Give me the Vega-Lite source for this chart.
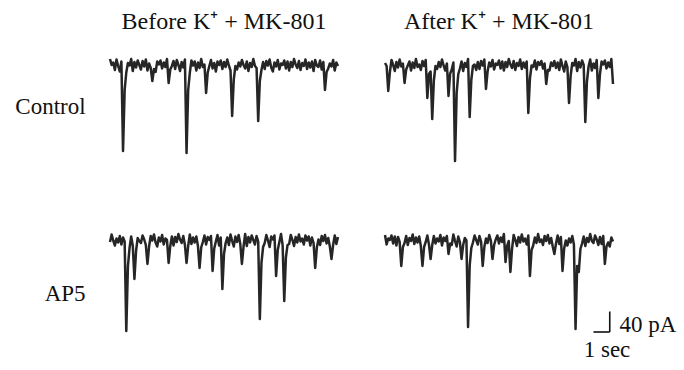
{
"$schema": "https://vega.github.io/schema/vega-lite/v6.json",
"background": "white",
"padding": {"left": 15, "top": 10, "right": 5, "bottom": 5},
"config": {"view": {"stroke": null}, "font": "Liberation Serif"},
"data": {"values": [
{"r":"C","c":"B","t":0,"i":10},{"r":"C","c":"B","t":0.1,"i":-2},{"r":"C","c":"B","t":0.2,"i":3},{"r":"C","c":"B","t":0.3,"i":-12},{"r":"C","c":"B","t":0.4,"i":9},{"r":"C","c":"B","t":0.5,"i":-4},{"r":"C","c":"B","t":0.6,"i":-15},{"r":"C","c":"B","t":0.7,"i":5},{"r":"C","c":"B","t":0.8,"i":-174},{"r":"C","c":"B","t":0.9,"i":-52},
{"r":"C","c":"B","t":1.0,"i":-17},{"r":"C","c":"B","t":1.1,"i":2},{"r":"C","c":"B","t":1.2,"i":-3},{"r":"C","c":"B","t":1.3,"i":10},{"r":"C","c":"B","t":1.4,"i":-14},{"r":"C","c":"B","t":1.5,"i":4},{"r":"C","c":"B","t":1.6,"i":-7},{"r":"C","c":"B","t":1.7,"i":7},{"r":"C","c":"B","t":1.8,"i":-2},{"r":"C","c":"B","t":1.9,"i":-11},
{"r":"C","c":"B","t":2.0,"i":6},{"r":"C","c":"B","t":2.1,"i":-5},{"r":"C","c":"B","t":2.2,"i":9},{"r":"C","c":"B","t":2.3,"i":-13},{"r":"C","c":"B","t":2.4,"i":1},{"r":"C","c":"B","t":2.5,"i":-8},{"r":"C","c":"B","t":2.6,"i":-34},{"r":"C","c":"B","t":2.7,"i":-10},{"r":"C","c":"B","t":2.8,"i":-16},{"r":"C","c":"B","t":2.9,"i":5},
{"r":"C","c":"B","t":3.0,"i":-1},{"r":"C","c":"B","t":3.1,"i":7},{"r":"C","c":"B","t":3.2,"i":-9},{"r":"C","c":"B","t":3.3,"i":3},{"r":"C","c":"B","t":3.4,"i":-6},{"r":"C","c":"B","t":3.5,"i":10},{"r":"C","c":"B","t":3.6,"i":-38},{"r":"C","c":"B","t":3.7,"i":-11},{"r":"C","c":"B","t":3.8,"i":-4},{"r":"C","c":"B","t":3.9,"i":6},
{"r":"C","c":"B","t":4.0,"i":-10},{"r":"C","c":"B","t":4.1,"i":8},{"r":"C","c":"B","t":4.2,"i":-2},{"r":"C","c":"B","t":4.3,"i":-14},{"r":"C","c":"B","t":4.4,"i":4},{"r":"C","c":"B","t":4.5,"i":-7},{"r":"C","c":"B","t":4.6,"i":9},{"r":"C","c":"B","t":4.7,"i":-178},{"r":"C","c":"B","t":4.8,"i":-53},{"r":"C","c":"B","t":4.9,"i":-18},
{"r":"C","c":"B","t":5.0,"i":7},{"r":"C","c":"B","t":5.1,"i":-3},{"r":"C","c":"B","t":5.2,"i":5},{"r":"C","c":"B","t":5.3,"i":-13},{"r":"C","c":"B","t":5.4,"i":3},{"r":"C","c":"B","t":5.5,"i":-8},{"r":"C","c":"B","t":5.6,"i":10},{"r":"C","c":"B","t":5.7,"i":-6},{"r":"C","c":"B","t":5.8,"i":-1},{"r":"C","c":"B","t":5.9,"i":-58},
{"r":"C","c":"B","t":6.0,"i":-17},{"r":"C","c":"B","t":6.1,"i":-4},{"r":"C","c":"B","t":6.2,"i":8},{"r":"C","c":"B","t":6.3,"i":-9},{"r":"C","c":"B","t":6.4,"i":2},{"r":"C","c":"B","t":6.5,"i":-15},{"r":"C","c":"B","t":6.6,"i":5},{"r":"C","c":"B","t":6.7,"i":-2},{"r":"C","c":"B","t":6.8,"i":7},{"r":"C","c":"B","t":6.9,"i":-10},
{"r":"C","c":"B","t":7.0,"i":4},{"r":"C","c":"B","t":7.1,"i":-6},{"r":"C","c":"B","t":7.2,"i":9},{"r":"C","c":"B","t":7.3,"i":-3},{"r":"C","c":"B","t":7.4,"i":-13},{"r":"C","c":"B","t":7.5,"i":-104},{"r":"C","c":"B","t":7.6,"i":-31},{"r":"C","c":"B","t":7.7,"i":-4},{"r":"C","c":"B","t":7.8,"i":-11},{"r":"C","c":"B","t":7.9,"i":3},
{"r":"C","c":"B","t":8.0,"i":-5},{"r":"C","c":"B","t":8.1,"i":8},{"r":"C","c":"B","t":8.2,"i":-2},{"r":"C","c":"B","t":8.3,"i":-9},{"r":"C","c":"B","t":8.4,"i":5},{"r":"C","c":"B","t":8.5,"i":-14},{"r":"C","c":"B","t":8.6,"i":2},{"r":"C","c":"B","t":8.7,"i":-6},{"r":"C","c":"B","t":8.8,"i":10},{"r":"C","c":"B","t":8.9,"i":-4},
{"r":"C","c":"B","t":9.0,"i":-8},{"r":"C","c":"B","t":9.1,"i":-114},{"r":"C","c":"B","t":9.2,"i":-34},{"r":"C","c":"B","t":9.3,"i":-12},{"r":"C","c":"B","t":9.4,"i":4},{"r":"C","c":"B","t":9.5,"i":-10},{"r":"C","c":"B","t":9.6,"i":6},{"r":"C","c":"B","t":9.7,"i":-3},{"r":"C","c":"B","t":9.8,"i":9},{"r":"C","c":"B","t":9.9,"i":-7},
{"r":"C","c":"B","t":10.0,"i":-15},{"r":"C","c":"B","t":10.1,"i":3},{"r":"C","c":"B","t":10.2,"i":-5},{"r":"C","c":"B","t":10.3,"i":8},{"r":"C","c":"B","t":10.4,"i":-11},{"r":"C","c":"B","t":10.5,"i":1},{"r":"C","c":"B","t":10.6,"i":-2},{"r":"C","c":"B","t":10.7,"i":7},{"r":"C","c":"B","t":10.8,"i":-9},{"r":"C","c":"B","t":10.9,"i":5},
{"r":"C","c":"B","t":11.0,"i":-13},{"r":"C","c":"B","t":11.1,"i":4},{"r":"C","c":"B","t":11.2,"i":-6},{"r":"C","c":"B","t":11.3,"i":10},{"r":"C","c":"B","t":11.4,"i":-1},{"r":"C","c":"B","t":11.5,"i":-8},{"r":"C","c":"B","t":11.6,"i":6},{"r":"C","c":"B","t":11.7,"i":-12},{"r":"C","c":"B","t":11.8,"i":2},{"r":"C","c":"B","t":11.9,"i":-4},
{"r":"C","c":"B","t":12.0,"i":9},{"r":"C","c":"B","t":12.1,"i":-10},{"r":"C","c":"B","t":12.2,"i":3},{"r":"C","c":"B","t":12.3,"i":-7},{"r":"C","c":"B","t":12.4,"i":5},{"r":"C","c":"B","t":12.5,"i":-14},{"r":"C","c":"B","t":12.6,"i":8},{"r":"C","c":"B","t":12.7,"i":-3},{"r":"C","c":"B","t":12.8,"i":-6},{"r":"C","c":"B","t":12.9,"i":7},
{"r":"C","c":"B","t":13.0,"i":-11},{"r":"C","c":"B","t":13.1,"i":4},{"r":"C","c":"B","t":13.2,"i":-52},{"r":"C","c":"B","t":13.3,"i":-16},{"r":"C","c":"B","t":13.4,"i":-9},{"r":"C","c":"B","t":13.5,"i":1},{"r":"C","c":"B","t":13.6,"i":-5},{"r":"C","c":"B","t":13.7,"i":8},{"r":"C","c":"B","t":13.8,"i":-13},{"r":"C","c":"B","t":13.9,"i":3},{"r":"C","c":"B","t":14.0,"i":-4},

{"r":"C","c":"A","t":0,"i":2},{"r":"C","c":"A","t":0.1,"i":-4},{"r":"C","c":"A","t":0.2,"i":-54},{"r":"C","c":"A","t":0.3,"i":-16},{"r":"C","c":"A","t":0.4,"i":8},{"r":"C","c":"A","t":0.5,"i":-2},{"r":"C","c":"A","t":0.6,"i":-14},{"r":"C","c":"A","t":0.7,"i":4},{"r":"C","c":"A","t":0.8,"i":-7},{"r":"C","c":"A","t":0.9,"i":9},
{"r":"C","c":"A","t":1.0,"i":-5},{"r":"C","c":"A","t":1.1,"i":1},{"r":"C","c":"A","t":1.2,"i":-38},{"r":"C","c":"A","t":1.3,"i":-11},{"r":"C","c":"A","t":1.4,"i":-3},{"r":"C","c":"A","t":1.5,"i":5},{"r":"C","c":"A","t":1.6,"i":-13},{"r":"C","c":"A","t":1.7,"i":3},{"r":"C","c":"A","t":1.8,"i":-8},{"r":"C","c":"A","t":1.9,"i":10},
{"r":"C","c":"A","t":2.0,"i":-6},{"r":"C","c":"A","t":2.1,"i":-1},{"r":"C","c":"A","t":2.2,"i":-12},{"r":"C","c":"A","t":2.3,"i":6},{"r":"C","c":"A","t":2.4,"i":-4},{"r":"C","c":"A","t":2.5,"i":8},{"r":"C","c":"A","t":2.6,"i":-68},{"r":"C","c":"A","t":2.7,"i":-20},{"r":"C","c":"A","t":2.8,"i":-15},{"r":"C","c":"A","t":2.9,"i":-110},
{"r":"C","c":"A","t":3.0,"i":-33},{"r":"C","c":"A","t":3.1,"i":-4},{"r":"C","c":"A","t":3.2,"i":-10},{"r":"C","c":"A","t":3.3,"i":4},{"r":"C","c":"A","t":3.4,"i":-6},{"r":"C","c":"A","t":3.5,"i":9},{"r":"C","c":"A","t":3.6,"i":-3},{"r":"C","c":"A","t":3.7,"i":-13},{"r":"C","c":"A","t":3.8,"i":1},{"r":"C","c":"A","t":3.9,"i":-64},
{"r":"C","c":"A","t":4.0,"i":-19},{"r":"C","c":"A","t":4.1,"i":-11},{"r":"C","c":"A","t":4.2,"i":3},{"r":"C","c":"A","t":4.3,"i":-194},{"r":"C","c":"A","t":4.4,"i":-58},{"r":"C","c":"A","t":4.5,"i":-20},{"r":"C","c":"A","t":4.6,"i":-9},{"r":"C","c":"A","t":4.7,"i":5},{"r":"C","c":"A","t":4.8,"i":-14},{"r":"C","c":"A","t":4.9,"i":2},
{"r":"C","c":"A","t":5.0,"i":-6},{"r":"C","c":"A","t":5.1,"i":10},{"r":"C","c":"A","t":5.2,"i":-106},{"r":"C","c":"A","t":5.3,"i":-32},{"r":"C","c":"A","t":5.4,"i":-4},{"r":"C","c":"A","t":5.5,"i":-1},{"r":"C","c":"A","t":5.6,"i":-12},{"r":"C","c":"A","t":5.7,"i":4},{"r":"C","c":"A","t":5.8,"i":-10},{"r":"C","c":"A","t":5.9,"i":6},
{"r":"C","c":"A","t":6.0,"i":-3},{"r":"C","c":"A","t":6.1,"i":9},{"r":"C","c":"A","t":6.2,"i":-50},{"r":"C","c":"A","t":6.3,"i":-15},{"r":"C","c":"A","t":6.4,"i":3},{"r":"C","c":"A","t":6.5,"i":-5},{"r":"C","c":"A","t":6.6,"i":8},{"r":"C","c":"A","t":6.7,"i":-11},{"r":"C","c":"A","t":6.8,"i":1},{"r":"C","c":"A","t":6.9,"i":-2},
{"r":"C","c":"A","t":7.0,"i":7},{"r":"C","c":"A","t":7.1,"i":-9},{"r":"C","c":"A","t":7.2,"i":5},{"r":"C","c":"A","t":7.3,"i":-13},{"r":"C","c":"A","t":7.4,"i":4},{"r":"C","c":"A","t":7.5,"i":-6},{"r":"C","c":"A","t":7.6,"i":10},{"r":"C","c":"A","t":7.7,"i":-1},{"r":"C","c":"A","t":7.8,"i":-8},{"r":"C","c":"A","t":7.9,"i":6},
{"r":"C","c":"A","t":8.0,"i":-12},{"r":"C","c":"A","t":8.1,"i":2},{"r":"C","c":"A","t":8.2,"i":-4},{"r":"C","c":"A","t":8.3,"i":9},{"r":"C","c":"A","t":8.4,"i":-10},{"r":"C","c":"A","t":8.5,"i":3},{"r":"C","c":"A","t":8.6,"i":-7},{"r":"C","c":"A","t":8.7,"i":5},{"r":"C","c":"A","t":8.8,"i":-98},{"r":"C","c":"A","t":8.9,"i":-29},
{"r":"C","c":"A","t":9.0,"i":-3},{"r":"C","c":"A","t":9.1,"i":-6},{"r":"C","c":"A","t":9.2,"i":7},{"r":"C","c":"A","t":9.3,"i":-11},{"r":"C","c":"A","t":9.4,"i":4},{"r":"C","c":"A","t":9.5,"i":-2},{"r":"C","c":"A","t":9.6,"i":6},{"r":"C","c":"A","t":9.7,"i":-9},{"r":"C","c":"A","t":9.8,"i":1},{"r":"C","c":"A","t":9.9,"i":-40},
{"r":"C","c":"A","t":10.0,"i":-12},{"r":"C","c":"A","t":10.1,"i":-13},{"r":"C","c":"A","t":10.2,"i":3},{"r":"C","c":"A","t":10.3,"i":-4},{"r":"C","c":"A","t":10.4,"i":6},{"r":"C","c":"A","t":10.5,"i":-8},{"r":"C","c":"A","t":10.6,"i":3},{"r":"C","c":"A","t":10.7,"i":-12},{"r":"C","c":"A","t":10.8,"i":9},{"r":"C","c":"A","t":10.9,"i":-4},
{"r":"C","c":"A","t":11.0,"i":-15},{"r":"C","c":"A","t":11.1,"i":5},{"r":"C","c":"A","t":11.2,"i":-6},{"r":"C","c":"A","t":11.3,"i":-78},{"r":"C","c":"A","t":11.4,"i":-23},{"r":"C","c":"A","t":11.5,"i":2},{"r":"C","c":"A","t":11.6,"i":-3},{"r":"C","c":"A","t":11.7,"i":10},{"r":"C","c":"A","t":11.8,"i":-14},{"r":"C","c":"A","t":11.9,"i":4},
{"r":"C","c":"A","t":12.0,"i":-7},{"r":"C","c":"A","t":12.1,"i":7},{"r":"C","c":"A","t":12.2,"i":-2},{"r":"C","c":"A","t":12.3,"i":-116},{"r":"C","c":"A","t":12.4,"i":-35},{"r":"C","c":"A","t":12.5,"i":-5},{"r":"C","c":"A","t":12.6,"i":9},{"r":"C","c":"A","t":12.7,"i":-13},{"r":"C","c":"A","t":12.8,"i":1},{"r":"C","c":"A","t":12.9,"i":-8},
{"r":"C","c":"A","t":13.0,"i":8},{"r":"C","c":"A","t":13.1,"i":-68},{"r":"C","c":"A","t":13.2,"i":-20},{"r":"C","c":"A","t":13.3,"i":5},{"r":"C","c":"A","t":13.4,"i":-1},{"r":"C","c":"A","t":13.5,"i":7},{"r":"C","c":"A","t":13.6,"i":-9},{"r":"C","c":"A","t":13.7,"i":3},{"r":"C","c":"A","t":13.8,"i":-6},{"r":"C","c":"A","t":13.9,"i":10},{"r":"C","c":"A","t":14.0,"i":-40},

{"r":"A","c":"B","t":0,"i":-6},{"r":"A","c":"B","t":0.1,"i":9},{"r":"A","c":"B","t":0.2,"i":-3},{"r":"A","c":"B","t":0.3,"i":-13},{"r":"A","c":"B","t":0.4,"i":1},{"r":"A","c":"B","t":0.5,"i":-7},{"r":"A","c":"B","t":0.6,"i":6},{"r":"A","c":"B","t":0.7,"i":-11},{"r":"A","c":"B","t":0.8,"i":3},{"r":"A","c":"B","t":0.9,"i":-5},
{"r":"A","c":"B","t":1.0,"i":-184},{"r":"A","c":"B","t":1.1,"i":-55},{"r":"A","c":"B","t":1.2,"i":-18},{"r":"A","c":"B","t":1.3,"i":5},{"r":"A","c":"B","t":1.4,"i":-14},{"r":"A","c":"B","t":1.5,"i":-80},{"r":"A","c":"B","t":1.6,"i":-24},{"r":"A","c":"B","t":1.7,"i":2},{"r":"A","c":"B","t":1.8,"i":-4},{"r":"A","c":"B","t":1.9,"i":-8},
{"r":"A","c":"B","t":2.0,"i":7},{"r":"A","c":"B","t":2.1,"i":-1},{"r":"A","c":"B","t":2.2,"i":-12},{"r":"A","c":"B","t":2.3,"i":-50},{"r":"A","c":"B","t":2.4,"i":-15},{"r":"A","c":"B","t":2.5,"i":6},{"r":"A","c":"B","t":2.6,"i":-3},{"r":"A","c":"B","t":2.7,"i":9},{"r":"A","c":"B","t":2.8,"i":-7},{"r":"A","c":"B","t":2.9,"i":-15},
{"r":"A","c":"B","t":3.0,"i":3},{"r":"A","c":"B","t":3.1,"i":-5},{"r":"A","c":"B","t":3.2,"i":8},{"r":"A","c":"B","t":3.3,"i":-11},{"r":"A","c":"B","t":3.4,"i":1},{"r":"A","c":"B","t":3.5,"i":-2},{"r":"A","c":"B","t":3.6,"i":-48},{"r":"A","c":"B","t":3.7,"i":-14},{"r":"A","c":"B","t":3.8,"i":5},{"r":"A","c":"B","t":3.9,"i":-13},
{"r":"A","c":"B","t":4.0,"i":4},{"r":"A","c":"B","t":4.1,"i":-6},{"r":"A","c":"B","t":4.2,"i":10},{"r":"A","c":"B","t":4.3,"i":-1},{"r":"A","c":"B","t":4.4,"i":-8},{"r":"A","c":"B","t":4.5,"i":6},{"r":"A","c":"B","t":4.6,"i":-12},{"r":"A","c":"B","t":4.7,"i":-48},{"r":"A","c":"B","t":4.8,"i":-14},{"r":"A","c":"B","t":4.9,"i":9},
{"r":"A","c":"B","t":5.0,"i":-10},{"r":"A","c":"B","t":5.1,"i":3},{"r":"A","c":"B","t":5.2,"i":-7},{"r":"A","c":"B","t":5.3,"i":5},{"r":"A","c":"B","t":5.4,"i":-14},{"r":"A","c":"B","t":5.5,"i":-58},{"r":"A","c":"B","t":5.6,"i":-17},{"r":"A","c":"B","t":5.7,"i":-6},{"r":"A","c":"B","t":5.8,"i":7},{"r":"A","c":"B","t":5.9,"i":-11},
{"r":"A","c":"B","t":6.0,"i":4},{"r":"A","c":"B","t":6.1,"i":-2},{"r":"A","c":"B","t":6.2,"i":6},{"r":"A","c":"B","t":6.3,"i":-64},{"r":"A","c":"B","t":6.4,"i":-19},{"r":"A","c":"B","t":6.5,"i":-5},{"r":"A","c":"B","t":6.6,"i":8},{"r":"A","c":"B","t":6.7,"i":-13},{"r":"A","c":"B","t":6.8,"i":3},{"r":"A","c":"B","t":6.9,"i":-100},
{"r":"A","c":"B","t":7.0,"i":-30},{"r":"A","c":"B","t":7.1,"i":-8},{"r":"A","c":"B","t":7.2,"i":3},{"r":"A","c":"B","t":7.3,"i":-12},{"r":"A","c":"B","t":7.4,"i":9},{"r":"A","c":"B","t":7.5,"i":-4},{"r":"A","c":"B","t":7.6,"i":-15},{"r":"A","c":"B","t":7.7,"i":5},{"r":"A","c":"B","t":7.8,"i":-6},{"r":"A","c":"B","t":7.9,"i":8},
{"r":"A","c":"B","t":8.0,"i":-10},{"r":"A","c":"B","t":8.1,"i":-50},{"r":"A","c":"B","t":8.2,"i":-15},{"r":"A","c":"B","t":8.3,"i":10},{"r":"A","c":"B","t":8.4,"i":-14},{"r":"A","c":"B","t":8.5,"i":4},{"r":"A","c":"B","t":8.6,"i":-7},{"r":"A","c":"B","t":8.7,"i":7},{"r":"A","c":"B","t":8.8,"i":-2},{"r":"A","c":"B","t":8.9,"i":-11},
{"r":"A","c":"B","t":9.0,"i":6},{"r":"A","c":"B","t":9.1,"i":-5},{"r":"A","c":"B","t":9.2,"i":-160},{"r":"A","c":"B","t":9.3,"i":-48},{"r":"A","c":"B","t":9.4,"i":-16},{"r":"A","c":"B","t":9.5,"i":-8},{"r":"A","c":"B","t":9.6,"i":8},{"r":"A","c":"B","t":9.7,"i":-3},{"r":"A","c":"B","t":9.8,"i":-16},{"r":"A","c":"B","t":9.9,"i":5},
{"r":"A","c":"B","t":10.0,"i":-1},{"r":"A","c":"B","t":10.1,"i":7},{"r":"A","c":"B","t":10.2,"i":-74},{"r":"A","c":"B","t":10.3,"i":-22},{"r":"A","c":"B","t":10.4,"i":-6},{"r":"A","c":"B","t":10.5,"i":10},{"r":"A","c":"B","t":10.6,"i":-12},{"r":"A","c":"B","t":10.7,"i":-124},{"r":"A","c":"B","t":10.8,"i":-37},{"r":"A","c":"B","t":10.9,"i":-12},
{"r":"A","c":"B","t":11.0,"i":-10},{"r":"A","c":"B","t":11.1,"i":8},{"r":"A","c":"B","t":11.2,"i":-2},{"r":"A","c":"B","t":11.3,"i":-14},{"r":"A","c":"B","t":11.4,"i":4},{"r":"A","c":"B","t":11.5,"i":-7},{"r":"A","c":"B","t":11.6,"i":9},{"r":"A","c":"B","t":11.7,"i":-5},{"r":"A","c":"B","t":11.8,"i":1},{"r":"A","c":"B","t":11.9,"i":-11},
{"r":"A","c":"B","t":12.0,"i":7},{"r":"A","c":"B","t":12.1,"i":-3},{"r":"A","c":"B","t":12.2,"i":5},{"r":"A","c":"B","t":12.3,"i":-13},{"r":"A","c":"B","t":12.4,"i":3},{"r":"A","c":"B","t":12.5,"i":-8},{"r":"A","c":"B","t":12.6,"i":-58},{"r":"A","c":"B","t":12.7,"i":-17},{"r":"A","c":"B","t":12.8,"i":-1},{"r":"A","c":"B","t":12.9,"i":-12},
{"r":"A","c":"B","t":13.0,"i":6},{"r":"A","c":"B","t":13.1,"i":-4},{"r":"A","c":"B","t":13.2,"i":8},{"r":"A","c":"B","t":13.3,"i":-9},{"r":"A","c":"B","t":13.4,"i":2},{"r":"A","c":"B","t":13.5,"i":-15},{"r":"A","c":"B","t":13.6,"i":-40},{"r":"A","c":"B","t":13.7,"i":-12},{"r":"A","c":"B","t":13.8,"i":7},{"r":"A","c":"B","t":13.9,"i":-10},{"r":"A","c":"B","t":14.0,"i":4},

{"r":"A","c":"A","t":0,"i":8},{"r":"A","c":"A","t":0.1,"i":-11},{"r":"A","c":"A","t":0.2,"i":1},{"r":"A","c":"A","t":0.3,"i":-2},{"r":"A","c":"A","t":0.4,"i":7},{"r":"A","c":"A","t":0.5,"i":-9},{"r":"A","c":"A","t":0.6,"i":5},{"r":"A","c":"A","t":0.7,"i":-13},{"r":"A","c":"A","t":0.8,"i":4},{"r":"A","c":"A","t":0.9,"i":-6},
{"r":"A","c":"A","t":1.0,"i":-54},{"r":"A","c":"A","t":1.1,"i":-16},{"r":"A","c":"A","t":1.2,"i":-8},{"r":"A","c":"A","t":1.3,"i":6},{"r":"A","c":"A","t":1.4,"i":-12},{"r":"A","c":"A","t":1.5,"i":2},{"r":"A","c":"A","t":1.6,"i":-4},{"r":"A","c":"A","t":1.7,"i":9},{"r":"A","c":"A","t":1.8,"i":-10},{"r":"A","c":"A","t":1.9,"i":3},
{"r":"A","c":"A","t":2.0,"i":-7},{"r":"A","c":"A","t":2.1,"i":5},{"r":"A","c":"A","t":2.2,"i":-14},{"r":"A","c":"A","t":2.3,"i":-54},{"r":"A","c":"A","t":2.4,"i":-16},{"r":"A","c":"A","t":2.5,"i":-6},{"r":"A","c":"A","t":2.6,"i":7},{"r":"A","c":"A","t":2.7,"i":-11},{"r":"A","c":"A","t":2.8,"i":-40},{"r":"A","c":"A","t":2.9,"i":-12},
{"r":"A","c":"A","t":3.0,"i":6},{"r":"A","c":"A","t":3.1,"i":-9},{"r":"A","c":"A","t":3.2,"i":1},{"r":"A","c":"A","t":3.3,"i":-5},{"r":"A","c":"A","t":3.4,"i":8},{"r":"A","c":"A","t":3.5,"i":-13},{"r":"A","c":"A","t":3.6,"i":3},{"r":"A","c":"A","t":3.7,"i":-4},{"r":"A","c":"A","t":3.8,"i":6},{"r":"A","c":"A","t":3.9,"i":-30},
{"r":"A","c":"A","t":4.0,"i":-9},{"r":"A","c":"A","t":4.1,"i":-12},{"r":"A","c":"A","t":4.2,"i":9},{"r":"A","c":"A","t":4.3,"i":-4},{"r":"A","c":"A","t":4.4,"i":-15},{"r":"A","c":"A","t":4.5,"i":5},{"r":"A","c":"A","t":4.6,"i":-6},{"r":"A","c":"A","t":4.7,"i":-40},{"r":"A","c":"A","t":4.8,"i":-12},{"r":"A","c":"A","t":4.9,"i":2},
{"r":"A","c":"A","t":5.0,"i":-3},{"r":"A","c":"A","t":5.1,"i":-176},{"r":"A","c":"A","t":5.2,"i":-53},{"r":"A","c":"A","t":5.3,"i":-18},{"r":"A","c":"A","t":5.4,"i":-7},{"r":"A","c":"A","t":5.5,"i":7},{"r":"A","c":"A","t":5.6,"i":-2},{"r":"A","c":"A","t":5.7,"i":-11},{"r":"A","c":"A","t":5.8,"i":6},{"r":"A","c":"A","t":5.9,"i":-5},
{"r":"A","c":"A","t":6.0,"i":-54},{"r":"A","c":"A","t":6.1,"i":-16},{"r":"A","c":"A","t":6.2,"i":1},{"r":"A","c":"A","t":6.3,"i":-8},{"r":"A","c":"A","t":6.4,"i":8},{"r":"A","c":"A","t":6.5,"i":-3},{"r":"A","c":"A","t":6.6,"i":-40},{"r":"A","c":"A","t":6.7,"i":-12},{"r":"A","c":"A","t":6.8,"i":-1},{"r":"A","c":"A","t":6.9,"i":7},
{"r":"A","c":"A","t":7.0,"i":-9},{"r":"A","c":"A","t":7.1,"i":3},{"r":"A","c":"A","t":7.2,"i":-6},{"r":"A","c":"A","t":7.3,"i":10},{"r":"A","c":"A","t":7.4,"i":-46},{"r":"A","c":"A","t":7.5,"i":-14},{"r":"A","c":"A","t":7.6,"i":-4},{"r":"A","c":"A","t":7.7,"i":-66},{"r":"A","c":"A","t":7.8,"i":-20},{"r":"A","c":"A","t":7.9,"i":8},
{"r":"A","c":"A","t":8.0,"i":-2},{"r":"A","c":"A","t":8.1,"i":-14},{"r":"A","c":"A","t":8.2,"i":4},{"r":"A","c":"A","t":8.3,"i":-7},{"r":"A","c":"A","t":8.4,"i":9},{"r":"A","c":"A","t":8.5,"i":-5},{"r":"A","c":"A","t":8.6,"i":1},{"r":"A","c":"A","t":8.7,"i":-11},{"r":"A","c":"A","t":8.8,"i":7},{"r":"A","c":"A","t":8.9,"i":-74},
{"r":"A","c":"A","t":9.0,"i":-22},{"r":"A","c":"A","t":9.1,"i":-13},{"r":"A","c":"A","t":9.2,"i":3},{"r":"A","c":"A","t":9.3,"i":-8},{"r":"A","c":"A","t":9.4,"i":10},{"r":"A","c":"A","t":9.5,"i":-6},{"r":"A","c":"A","t":9.6,"i":-1},{"r":"A","c":"A","t":9.7,"i":-12},{"r":"A","c":"A","t":9.8,"i":6},{"r":"A","c":"A","t":9.9,"i":-4},
{"r":"A","c":"A","t":10.0,"i":8},{"r":"A","c":"A","t":10.1,"i":-9},{"r":"A","c":"A","t":10.2,"i":2},{"r":"A","c":"A","t":10.3,"i":-15},{"r":"A","c":"A","t":10.4,"i":-30},{"r":"A","c":"A","t":10.5,"i":-9},{"r":"A","c":"A","t":10.6,"i":7},{"r":"A","c":"A","t":10.7,"i":-10},{"r":"A","c":"A","t":10.8,"i":4},{"r":"A","c":"A","t":10.9,"i":-64},
{"r":"A","c":"A","t":11.0,"i":-19},{"r":"A","c":"A","t":11.1,"i":-3},{"r":"A","c":"A","t":11.2,"i":-13},{"r":"A","c":"A","t":11.3,"i":1},{"r":"A","c":"A","t":11.4,"i":-7},{"r":"A","c":"A","t":11.5,"i":6},{"r":"A","c":"A","t":11.6,"i":-11},{"r":"A","c":"A","t":11.7,"i":-180},{"r":"A","c":"A","t":11.8,"i":-54},{"r":"A","c":"A","t":11.9,"i":-66},
{"r":"A","c":"A","t":12.0,"i":-20},{"r":"A","c":"A","t":12.1,"i":-9},{"r":"A","c":"A","t":12.2,"i":5},{"r":"A","c":"A","t":12.3,"i":-14},{"r":"A","c":"A","t":12.4,"i":2},{"r":"A","c":"A","t":12.5,"i":-6},{"r":"A","c":"A","t":12.6,"i":10},{"r":"A","c":"A","t":12.7,"i":-4},{"r":"A","c":"A","t":12.8,"i":-8},{"r":"A","c":"A","t":12.9,"i":7},
{"r":"A","c":"A","t":13.0,"i":-1},{"r":"A","c":"A","t":13.1,"i":-12},{"r":"A","c":"A","t":13.2,"i":4},{"r":"A","c":"A","t":13.3,"i":-10},{"r":"A","c":"A","t":13.4,"i":6},{"r":"A","c":"A","t":13.5,"i":-50},{"r":"A","c":"A","t":13.6,"i":-15},{"r":"A","c":"A","t":13.7,"i":-7},{"r":"A","c":"A","t":13.8,"i":-15},{"r":"A","c":"A","t":13.9,"i":3},{"r":"A","c":"A","t":14.0,"i":-5},

{"r":"A","c":"A","x1":13.8,"x2":13.8,"y1":-145,"y2":-186},
{"r":"A","c":"A","x1":12.8,"x2":13.8,"y1":-186,"y2":-186},
{"r":"A","c":"A","lx":14.4,"ly":-172,"label":"40 pA"},
{"r":"A","c":"A","lx":12.2,"ly":-222,"label":"1 sec"},
{"r":"C","c":"B","rx":-1.5,"ry":-86,"rl":"Control"},
{"r":"A","c":"B","rx":-1.5,"ry":-110,"rl":"AP5"}
]},
"facet": {
  "row": {"field": "r", "type": "nominal", "sort": ["C", "A"], "title": null, "header": {"labels": false}},
  "column": {"field": "c", "type": "nominal", "sort": ["B", "A"], "title": null,
    "header": {"labelExpr": "datum.value == 'B' ? 'Before K⁺ + MK-801' : 'After K⁺ + MK-801'", "labelOrient": "top", "labelPadding": 15, "labelFont": "Liberation Serif", "labelFontSize": 24, "labelColor": "#111"}}
},
"bounds": "flush",
"spacing": {"row": 60, "column": 47},
"spec": {
  "width": 228,
  "height": 115,
  "layer": [
    {"transform": [{"filter": "isValid(datum.i)"}],
     "mark": {"type": "line", "stroke": "#262626", "strokeWidth": 2.5, "strokeJoin": "round"},
     "encoding": {
       "x": {"field": "t", "type": "quantitative", "scale": {"domain": [0, 14], "nice": false, "zero": false}, "axis": null},
       "y": {"field": "i", "type": "quantitative", "scale": {"domain": [-200, 30], "nice": false, "zero": false}, "axis": null}
     }},
    {"transform": [{"filter": "isValid(datum.x1)"}],
     "mark": {"type": "rule", "stroke": "#111", "strokeWidth": 1.6},
     "encoding": {
       "x": {"field": "x1", "type": "quantitative"},
       "x2": {"field": "x2"},
       "y": {"field": "y1", "type": "quantitative"},
       "y2": {"field": "y2"}
     }},
    {"transform": [{"filter": "isValid(datum.label)"}],
     "mark": {"type": "text", "align": "left", "baseline": "middle", "font": "Liberation Serif", "fontSize": 23, "color": "#111"},
     "encoding": {
       "x": {"field": "lx", "type": "quantitative"},
       "y": {"field": "ly", "type": "quantitative"},
       "text": {"field": "label"}
     }},
    {"transform": [{"filter": "isValid(datum.rl)"}],
     "mark": {"type": "text", "align": "right", "baseline": "middle", "font": "Liberation Serif", "fontSize": 23, "color": "#111"},
     "encoding": {
       "x": {"field": "rx", "type": "quantitative"},
       "y": {"field": "ry", "type": "quantitative"},
       "text": {"field": "rl"}
     }}
  ]
}
}
